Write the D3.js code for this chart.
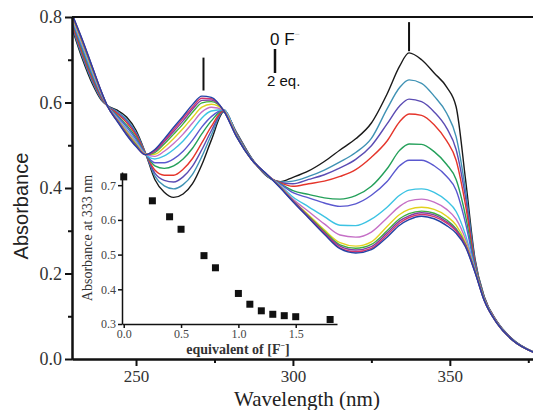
<!DOCTYPE html>
<html>
<head>
<meta charset="utf-8">
<script src="https://cdn.jsdelivr.net/npm/d3@7"></script>
<style>
	body { margin: 0; background: #fff; }
	svg { display: block; }
</style>
</head>
<body>
<div id="chart"></div>
<script>

// wavelength grid (nm) shared by all spectra
const wavelengths = [230, 233, 236, 239, 241, 244, 247, 250, 253, 256, 259, 262, 265, 268, 271, 274, 278, 282, 287, 292, 296, 300, 305, 310, 315, 320, 325, 330, 334, 337, 341, 345, 349, 352, 355, 358, 361, 365, 370, 377];

// absorbance spectra, 0 F- up to 2 eq.
const s00 = [.765,.700,.645,.605,.592,.582,.566,.535,.482,.420,.390,.378,.386,.410,.455,.512,.578,.530,.468,.426,.415,.425,.440,.462,.489,.515,.552,.620,.685,.716,.700,.669,.636,.590,.420,.235,.145,.088,.046,.015];
const s01 = [.769,.705,.650,.607,.592,.579,.561,.530,.482,.428,.405,.398,.408,.432,.474,.524,.580,.529,.468,.427,.414,.416,.427,.442,.461,.483,.516,.585,.635,.653,.645,.615,.575,.520,.395,.230,.144,.088,.046,.015];
const s02 = [.773,.710,.654,.609,.592,.576,.557,.527,.481,.435,.418,.414,.426,.451,.490,.534,.581,.528,.467,.427,.413,.410,.420,.431,.447,.467,.499,.550,.592,.608,.602,.578,.540,.490,.378,.226,.143,.087,.045,.015];
const s03 = [.776,.714,.658,.611,.591,.574,.553,.523,.481,.442,.430,.430,.444,.469,.506,.544,.582,.527,.467,.428,.412,.404,.410,.416,.427,.443,.472,.510,.555,.573,.570,.548,.510,.465,.360,.222,.142,.087,.045,.015];
const s04 = [.781,.720,.663,.614,.591,.570,.547,.518,.480,.452,.446,.452,.468,.493,.527,.557,.583,.526,.467,.428,.410,.394,.385,.377,.374,.382,.404,.445,.488,.503,.502,.485,.455,.420,.335,.217,.141,.086,.045,.015];
const s05 = [.784,.725,.667,.616,.591,.568,.543,.514,.480,.459,.459,.468,.486,.512,.543,.567,.583,.525,.466,.428,.409,.389,.377,.365,.357,.363,.383,.415,.452,.465,.465,.452,.427,.395,.318,.214,.140,.086,.045,.015];
const s06 = [.789,.731,.672,.619,.591,.564,.537,.509,.479,.468,.475,.490,.510,.536,.564,.580,.583,.524,.466,.429,.406,.379,.356,.333,.313,.312,.327,.355,.383,.395,.398,.390,.370,.345,.290,.210,.139,.085,.044,.015];
const s07 = [.792,.735,.676,.620,.591,.562,.534,.506,.479,.474,.486,.504,.526,.552,.578,.589,.582,.523,.466,.429,.404,.374,.345,.316,.290,.285,.297,.330,.357,.370,.374,.367,.350,.327,.280,.208,.138,.085,.044,.015];
const s08 = [.794,.738,.679,.622,.590,.560,.531,.503,.479,.479,.495,.516,.539,.565,.589,.596,.582,.522,.465,.429,.403,.371,.337,.302,.272,.264,.274,.310,.338,.350,.355,.350,.334,.313,.272,.207,.138,.085,.044,.015];
const s09 = [.797,.741,.681,.623,.590,.559,.528,.501,.478,.483,.503,.526,.550,.577,.599,.602,.581,.522,.465,.429,.402,.370,.334,.299,.267,.259,.268,.300,.328,.340,.346,.341,.325,.305,.268,.206,.137,.084,.044,.015];
const s10 = [.798,.742,.683,.624,.590,.558,.527,.499,.478,.486,.508,.532,.557,.584,.605,.606,.581,.521,.465,.430,.401,.370,.333,.296,.264,.255,.263,.295,.323,.335,.342,.337,.321,.302,.266,.205,.137,.084,.044,.015];
const s11 = [.799,.744,.684,.624,.590,.557,.525,.498,.478,.488,.511,.537,.563,.589,.610,.609,.580,.521,.465,.430,.401,.369,.331,.295,.260,.251,.259,.290,.318,.331,.338,.333,.318,.299,.264,.204,.136,.084,.044,.015];
const s12 = [.800,.745,.685,.625,.590,.556,.524,.497,.478,.490,.515,.542,.568,.595,.615,.612,.580,.520,.465,.430,.400,.368,.330,.292,.258,.248,.256,.285,.313,.326,.334,.328,.312,.294,.262,.203,.136,.084,.044,.015];

const curveColors = ["#1a1a1a", "#3f92b4", "#5b4cb3", "#e5352b", "#24a05a", "#5a58cf", "#3cc3e3", "#c56fc6", "#e2d21e", "#3fae3f", "#7e3fa3", "#d3356f", "#2243a6"];

// inset: absorbance at 333 nm vs equivalents of F-
const equivalents = [0, 0.25, 0.4, 0.5, 0.7, 0.8, 1.0, 1.1, 1.2, 1.3, 1.4, 1.5, 1.8];
const abs333 = [0.724, 0.655, 0.609, 0.573, 0.497, 0.462, 0.388, 0.357, 0.338, 0.328, 0.324, 0.321, 0.313];

const xTicks = [250, 300, 350];
const xMinorTicks = [275, 325, 375];
const yTicks = [0, 0.2, 0.4, 0.6, 0.8];
const yMinorTicks = [0.1, 0.3, 0.5, 0.7];
const insetXTicks = [0, 0.5, 1.0, 1.5];
const insetYTicks = [0.3, 0.4, 0.5, 0.6, 0.7];

const WIDTH = 533;
const HEIGHT = 410;
const SERIF = "'Liberation Serif', 'Times New Roman', serif";
const SANS = "'Liberation Sans', Arial, sans-serif";

const spectra = [s00, s01, s02, s03, s04, s05, s06, s07, s08, s09, s10, s11, s12];

const plot = { left: 72, right: 533, top: 17, bottom: 359 };
const inset = { left: 122, right: 337, top: 172, bottom: 324 };

const svg = d3.select("#chart").append("svg")
	.attr("width", WIDTH)
	.attr("height", HEIGHT)
	.style("background", "#fff");

const x = d3.scaleLinear().domain([229.6, 376.5]).range([plot.left, plot.right]);
const y = d3.scaleLinear().domain([0, 0.8]).range([plot.bottom, plot.top]);

svg.append("clipPath").attr("id", "clip")
	.append("rect")
	.attr("x", plot.left).attr("y", plot.top - 2)
	.attr("width", plot.right - plot.left).attr("height", plot.bottom - plot.top + 2);

// spectra
const line = d3.line()
	.x((d, i) => x(wavelengths[i]))
	.y(d => y(d))
	.curve(d3.curveMonotoneX);

svg.append("g")
	.attr("clip-path", "url(#clip)")
	.selectAll("path")
	.data(spectra)
	.enter()
	.append("path")
	.attr("d", line)
	.attr("fill", "none")
	.attr("stroke", (d, i) => curveColors[i])
	.attr("stroke-width", 1.4);

// axes
function styleAxis (g, width) {
	g.select(".domain").attr("stroke", "#111").attr("stroke-width", width);
	g.selectAll(".tick line").attr("stroke", "#111").attr("stroke-width", width);
}

const axisX = svg.append("g")
	.attr("transform", "translate(0," + plot.bottom + ")")
	.call(d3.axisBottom(x).tickValues(xTicks).tickSize(7).tickSizeOuter(0).tickPadding(4))
	.call(g => styleAxis(g, 2));
axisX.selectAll("text").attr("font-family", SERIF).attr("font-size", 17).attr("fill", "#333");

svg.append("g")
	.attr("transform", "translate(0," + plot.bottom + ")")
	.call(d3.axisBottom(x).tickValues(xMinorTicks).tickSize(4).tickSizeOuter(0).tickFormat(""))
	.call(g => styleAxis(g, 2));

const axisY = svg.append("g")
	.attr("transform", "translate(" + plot.left + ",0)")
	.call(d3.axisLeft(y).tickValues(yTicks).tickSize(7).tickSizeOuter(0).tickPadding(3).tickFormat(d3.format(".1f")))
	.call(g => styleAxis(g, 2));
axisY.selectAll("text").attr("font-family", SERIF).attr("font-size", 18).attr("fill", "#333");

svg.append("g")
	.attr("transform", "translate(" + plot.left + ",0)")
	.call(d3.axisLeft(y).tickValues(yMinorTicks).tickSize(4).tickSizeOuter(0).tickFormat(""))
	.call(g => styleAxis(g, 2));

svg.append("line")
	.attr("x1", plot.left).attr("x2", plot.right)
	.attr("y1", plot.top).attr("y2", plot.top)
	.attr("stroke", "#111").attr("stroke-width", 2);

svg.append("text")
	.attr("x", 307).attr("y", 406)
	.attr("text-anchor", "middle")
	.attr("font-family", SERIF).attr("font-size", 21).attr("fill", "#222")
	.text("Wavelength (nm)");

svg.append("text")
	.attr("transform", "translate(28,206) rotate(-90)")
	.attr("text-anchor", "middle")
	.attr("font-family", SANS).attr("font-size", 20).attr("fill", "#222")
	.text("Absorbance");

// arrows over the two bands
const arrowMarks = [{ wl: 271.5, from: 0.705, to: 0.628 }, { wl: 337, from: 0.788, to: 0.72 }];
svg.append("g")
	.selectAll("line")
	.data(arrowMarks)
	.enter()
	.append("line")
	.attr("x1", d => x(d.wl)).attr("x2", d => x(d.wl))
	.attr("y1", d => y(d.from)).attr("y2", d => y(d.to))
	.attr("stroke", "#111").attr("stroke-width", 2);

// legend: 0 F- | 2 eq.
const legend = svg.append("g").attr("font-family", SANS).attr("fill", "#111");
const label0 = legend.append("text").attr("x", 270).attr("y", 45).attr("font-size", 17);
label0.append("tspan").text("0 F");
label0.append("tspan").attr("font-size", 9).attr("dy", -8).attr("fill", "#bbb").text("\u2212");
legend.append("line")
	.attr("x1", 275).attr("x2", 275).attr("y1", 49).attr("y2", 73)
	.attr("stroke", "#111").attr("stroke-width", 2.5);
legend.append("text").attr("x", 267).attr("y", 86).attr("font-size", 15).text("2 eq.");

// inset
const ix = d3.scaleLinear().domain([-0.015, 1.86]).range([inset.left, inset.right]);
const iy = d3.scaleLinear().domain([0.3, 0.738]).range([inset.bottom, inset.top]);

const insetG = svg.append("g");

const insetAxisX = insetG.append("g")
	.attr("transform", "translate(0," + inset.bottom + ")")
	.call(d3.axisBottom(ix).tickValues(insetXTicks).tickSize(4).tickSizeOuter(0).tickPadding(1).tickFormat(d3.format(".1f")))
	.call(g => styleAxis(g, 1.5));
insetAxisX.selectAll("text").attr("font-family", SERIF).attr("font-size", 12).attr("fill", "#444");

const insetAxisY = insetG.append("g")
	.attr("transform", "translate(" + inset.left + ",0)")
	.call(d3.axisLeft(iy).tickValues(insetYTicks).tickSize(4).tickSizeOuter(0).tickPadding(2).tickFormat(d3.format(".1f")))
	.call(g => styleAxis(g, 1.5));
insetAxisY.selectAll("text").attr("font-family", SERIF).attr("font-size", 12).attr("fill", "#444");

insetG.append("g")
	.selectAll("rect")
	.data(equivalents)
	.enter()
	.append("rect")
	.attr("x", (d, i) => ix(d) - 3.5)
	.attr("y", (d, i) => iy(abs333[i]) - 3.5)
	.attr("width", 7).attr("height", 7)
	.attr("fill", "#111");

const insetLabel = insetG.append("text")
	.attr("x", 238).attr("y", 354)
	.attr("text-anchor", "middle")
	.attr("font-family", SERIF).attr("font-size", 14).attr("font-weight", "bold").attr("fill", "#333");
insetLabel.append("tspan").text("equivalent of [F");
insetLabel.append("tspan").attr("font-size", 8).attr("dy", -6).text("\u2212");
insetLabel.append("tspan").attr("dy", 6).text("]");

insetG.append("text")
	.attr("transform", "translate(92,238) rotate(-90)")
	.attr("text-anchor", "middle")
	.attr("font-family", SERIF).attr("font-size", 14).attr("fill", "#333")
	.text("Absorbance at 333 nm");

</script>
</body>
</html>
